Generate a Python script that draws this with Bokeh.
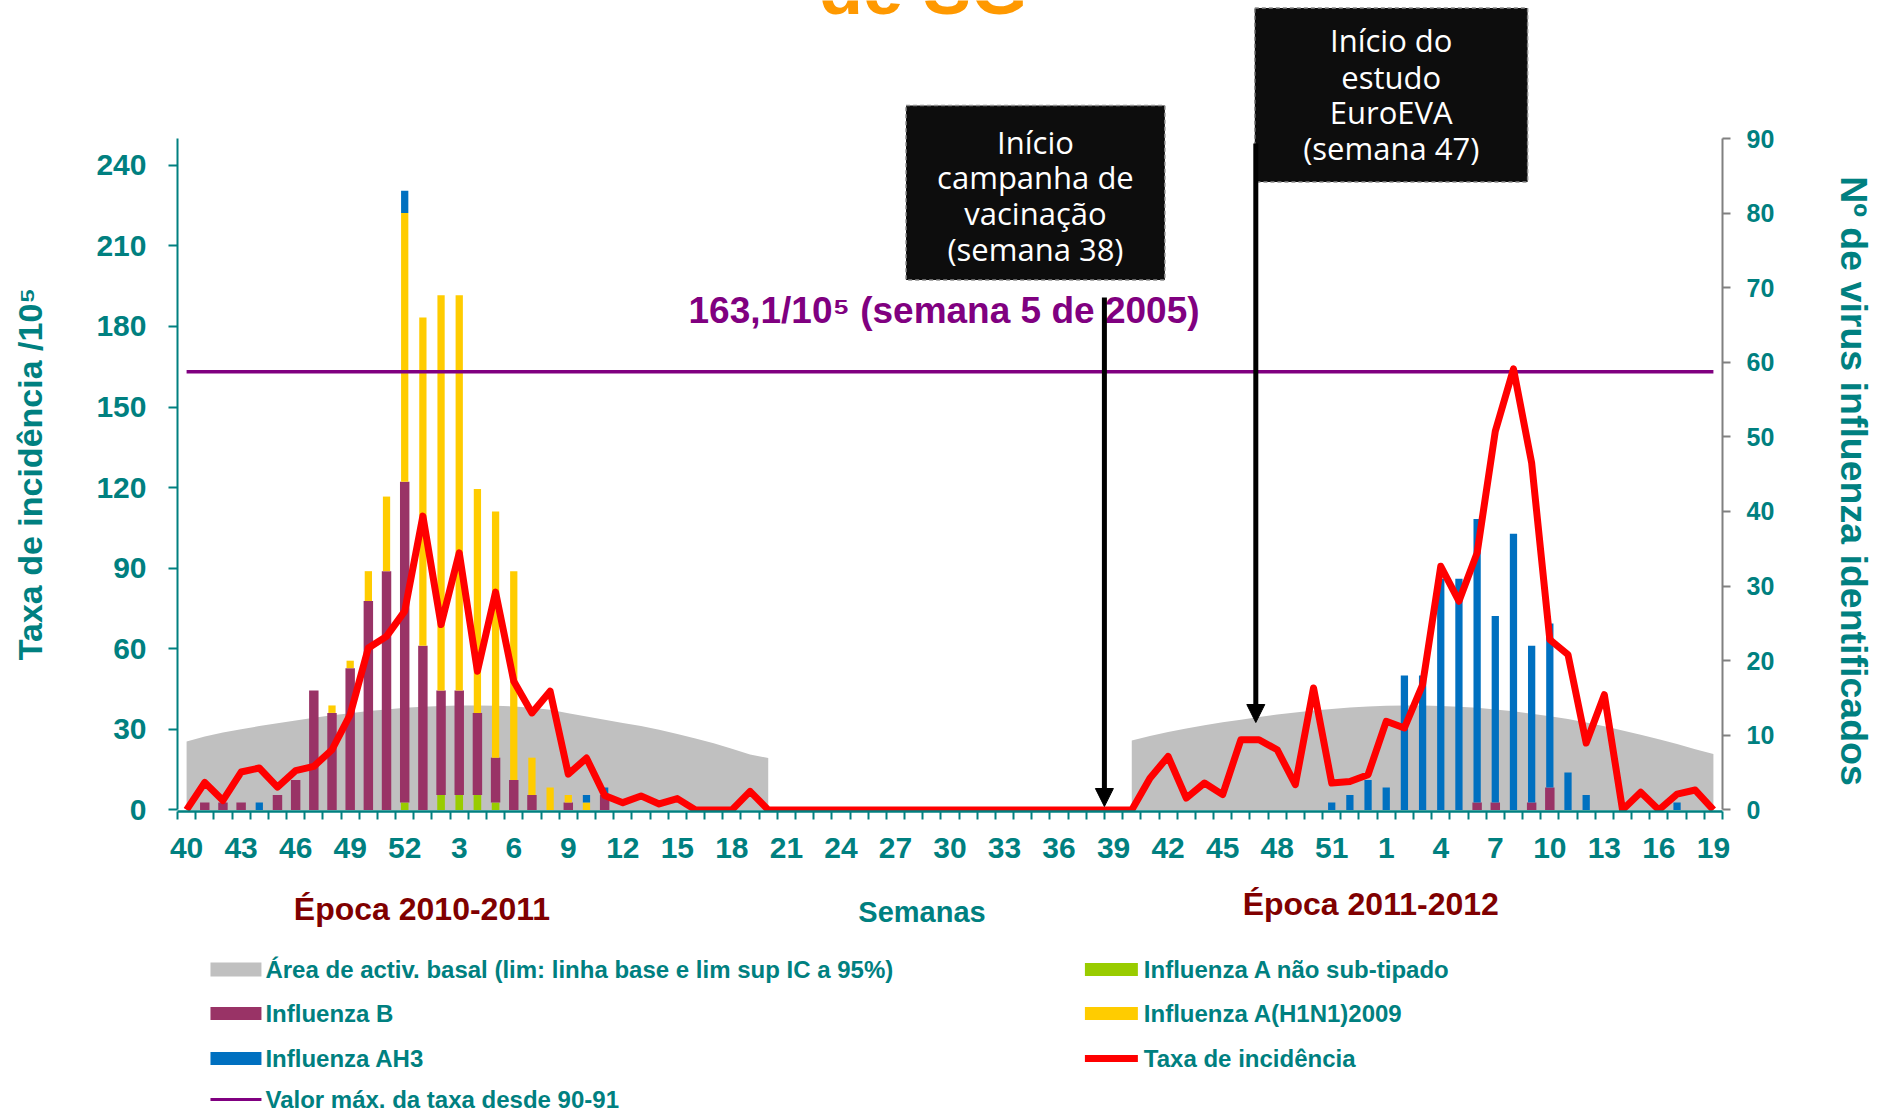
import numpy as np
from bokeh.plotting import figure
from bokeh.models import Range1d, LinearAxis, FixedTicker, Arrow, NormalHead
from bokeh.layouts import column
from bokeh.core.properties import value
from bokeh.embed import file_html
from bokeh.resources import INLINE

# ------------------------------------------------------------------ data
weeks_2010_11 = list(range(40, 53)) + list(range(1, 40))          # 52 weeks
weeks_2011_12 = list(range(40, 54)) + list(range(1, 20))          # 33 weeks
week_labels = weeks_2010_11 + weeks_2011_12

# incidence rate /10^5 (left axis)
rate_2010_11 = [0, 10.2, 3.5, 14.1, 15.6, 8.5, 14.6, 16.2, 22.4, 35.5, 60.3, 64.6, 74.0,
                109.4, 69.0, 95.7, 51.6, 81.1, 47.9, 36.1, 44.2, 13.3, 19.3, 5.4, 2.7,
                5.2, 2.2, 4.2, 0, 0, 0, 6.9, 0]
rate_summer = [0, 0, 0, 0, 0, 0, 0, 0, 0, 0, 0, 0, 0, 0, 0, 0, 0, 0, 0]
rate_2011_12 = [0, 11.8, 19.9, 4.4, 10.0, 5.7, 26.1, 26.1, 22.4, 9.4, 45.4, 10.0, 10.6,
                13.1, 33.0, 30.5, 46.6, 90.7, 77.7, 95.7, 141.0, 164.2, 129.2, 63.4, 57.8,
                24.9, 42.9, 0, 6.6, 0, 5.9, 7.4, 0]

# baseline activity area (upper limit, left axis)
baseline_2010_11 = [25.5, 27.3, 28.8, 30.0, 31.2, 32.3, 33.3, 34.3, 35.2, 36.0, 36.8, 37.4,
                    38.0, 38.4, 38.7, 38.9, 38.9, 38.8, 38.5, 38.0, 37.3, 36.0, 34.8, 33.6,
                    32.4, 31.2, 29.8, 28.3, 26.6, 24.8, 22.8, 20.6, 19.3]
baseline_2011_12 = [25.8, 27.5, 29.0, 30.3, 31.5, 32.6, 33.6, 34.6, 35.5, 36.3, 37.0, 37.6,
                    38.1, 38.5, 38.8, 38.9, 38.9, 38.7, 38.4, 38.0, 37.4, 36.7, 35.8, 34.9,
                    33.8, 32.5, 31.1, 29.6, 28.0, 26.3, 24.5, 22.6, 20.8]

# identified viruses (right axis)
a_nst_2010_11 = [0, 0, 0, 0, 0, 0, 0, 0, 0, 0, 0, 0, 1, 0, 2, 2, 2, 1, 0, 0, 0, 0, 0, 0,
                 0, 0, 0, 0, 0, 0, 0, 0, 0]
flu_b_2010_11 = [0, 1, 1, 1, 0, 2, 4, 16, 13, 19, 28, 32, 43, 22, 14, 14, 11, 6, 4, 2, 0, 1,
                 0, 2, 0, 0, 0, 0, 0, 0, 0, 0, 0]
h1n1_2010_11 = [0, 0, 0, 0, 0, 0, 0, 0, 1, 1, 4, 10, 36, 44, 53, 53, 30, 33, 28, 5, 3, 1,
                1, 0, 0, 0, 0, 0, 0, 0, 0, 0, 0]
ah3_2010_11 = [0, 0, 0, 0, 1, 0, 0, 0, 0, 0, 0, 0, 3, 0, 0, 0, 0, 0, 0, 0, 0, 0, 1, 1,
               0, 0, 0, 0, 0, 0, 0, 0, 0]
virus_summer = [0, 0, 0, 0, 0, 0, 0, 0, 0, 0, 0, 0, 0, 0, 0, 0, 0, 0, 0]
a_nst_2011_12 = [0, 0, 0, 0, 0, 0, 0, 0, 0, 0, 0, 0, 0, 0, 0, 0, 0, 0, 0, 0, 0, 0, 0, 0,
                 0, 0, 0, 0, 0, 0, 0, 0, 0]
flu_b_2011_12 = [0, 0, 0, 0, 0, 0, 0, 0, 0, 0, 0, 0, 0, 0, 0, 0, 0, 0, 0, 1, 1, 0, 1, 3,
                 0, 0, 0, 0, 0, 0, 0, 0, 0]
h1n1_2011_12 = [0, 0, 0, 0, 0, 0, 0, 0, 0, 0, 0, 0, 0, 0, 0, 0, 0, 0, 0, 0, 0, 0, 0, 0,
                0, 0, 0, 0, 0, 0, 0, 0, 0]
ah3_2011_12 = [0, 0, 0, 0, 0, 0, 0, 0, 0, 0, 0, 1, 2, 4, 3, 18, 18, 31, 31, 38, 25, 37, 21,
               22, 5, 2, 0, 0, 0, 0, 1, 0, 0]

max_rate = 163.1   # semana 5 de 2005

legend_left = ["Área de activ. basal (lim: linha base e lim sup IC a 95%)", "Influenza B",
               "Influenza AH3", "Valor máx. da taxa desde 90-91"]
legend_right = ["Influenza A não sub-tipado", "Influenza A(H1N1)2009", "Taxa de incidência"]
box1_lines = ["Início", "campanha de", "vacinação", "(semana 38)"]
box2_lines = ["Início do", "estudo", "EuroEVA", "(semana 47)"]

# ------------------------------------------------------------------ styles / layout
TEAL = "#008080"
DARKRED = "#800000"
FONT = "Liberation Sans"
C_AREA, C_NST, C_B, C_H1, C_H3 = "#C0C0C0", "#99CC00", "#993366", "#FFCC00", "#0070C0"
C_RATE, C_MAX = "#FF0000", "#800080"
EM = "\u2003"

W = 1878
FL, FR = 177, 1723          # frame left / right (px)
AX_TOP = 138                # pixel row of the axis maximum (250 / 90)
FRAME_H = 811               # frame spans pixel rows 0 .. 811
MAIN_H = 878
BOT_H = 1114 - MAIN_H
Y_LO, Y_MAX, V_MAX = -0.6, 250, 90
SCALE = (FRAME_H - AX_TOP) / (Y_MAX - Y_LO)
Y_END = Y_LO + FRAME_H / SCALE

N = len(week_labels)
x = np.arange(N)
rate = np.array(rate_2010_11 + rate_summer + rate_2011_12, dtype=float)
a_nst = np.array(a_nst_2010_11 + virus_summer + a_nst_2011_12, dtype=float)
flu_b = np.array(flu_b_2010_11 + virus_summer + flu_b_2011_12, dtype=float)
h1n1 = np.array(h1n1_2010_11 + virus_summer + h1n1_2011_12, dtype=float)
ah3 = np.array(ah3_2010_11 + virus_summer + ah3_2011_12, dtype=float)
x_s1 = x[:len(baseline_2010_11)]
x_s2 = x[N - len(baseline_2011_12):]

# ---------------- main chart
p = figure(width=W, height=MAIN_H, x_range=Range1d(-0.5, N - 0.5),
           y_range=Range1d(Y_LO, Y_END), output_backend="svg", toolbar_location=None,
           x_axis_type=None, y_axis_type=None, title=None,
           min_border_left=FL, min_border_right=W - FR, min_border_top=0,
           min_border_bottom=MAIN_H - FRAME_H)
p.extra_y_ranges = {"virus": Range1d(Y_LO * V_MAX / Y_MAX, Y_END * V_MAX / Y_MAX),
                    "pxy": Range1d(FRAME_H, 0)}
p.extra_x_ranges = {"pxx": Range1d(FL, FR)}
p.outline_line_color = None

xaxis = LinearAxis(ticker=FixedTicker(ticks=list(range(0, N, 3)),
                                      minor_ticks=[i - 0.5 for i in range(N + 1)]),
                   major_label_overrides={i: str(week_labels[i]) for i in range(0, N, 3)})
xaxis.axis_line_color = TEAL
xaxis.axis_line_width = 2.5
xaxis.major_tick_out = 0
xaxis.major_tick_in = 0
xaxis.major_tick_line_color = None
xaxis.minor_tick_out = 8
xaxis.minor_tick_in = 0
xaxis.minor_tick_line_color = TEAL
xaxis.minor_tick_line_width = 2
xaxis.major_label_standoff = 18
xaxis.major_label_text_font = FONT
xaxis.major_label_text_font_style = "bold"
xaxis.major_label_text_font_size = "30px"
xaxis.major_label_text_color = TEAL
p.add_layout(xaxis, "below")

# em spaces keep the axis titles centred on the 0..max span instead of the tall frame
yl = LinearAxis(ticker=FixedTicker(ticks=list(range(0, 241, 30))), bounds=(0, Y_MAX),
                axis_label="Taxa de incidência /10⁵" + EM * 4)
yl.axis_line_color = TEAL
yl.axis_line_width = 2
yl.major_tick_line_color = TEAL
yl.major_tick_line_width = 2
yl.major_tick_out = 9
yl.major_tick_in = 0
yl.minor_tick_line_color = None
yl.major_label_standoff = 22
yl.major_label_text_font = FONT
yl.major_label_text_font_style = "bold"
yl.major_label_text_font_size = "30px"
yl.major_label_text_color = TEAL
yl.axis_label_text_font = FONT
yl.axis_label_text_font_style = "bold"
yl.axis_label_text_font_size = "34px"
yl.axis_label_text_color = TEAL
yl.axis_label_standoff = 44
p.add_layout(yl, "left")

yr = LinearAxis(y_range_name="virus", ticker=FixedTicker(ticks=list(range(0, 91, 10))),
                bounds=(0, V_MAX), axis_label=EM * 4 + "Nº de virus influenza identificados")
yr.axis_line_color = "#808080"
yr.axis_line_width = 2
yr.major_tick_line_color = "#808080"
yr.major_tick_line_width = 2
yr.major_tick_out = 8
yr.major_tick_in = 0
yr.minor_tick_line_color = None
yr.major_label_standoff = 16
yr.major_label_text_font = FONT
yr.major_label_text_font_style = "bold"
yr.major_label_text_font_size = "25px"
yr.major_label_text_color = TEAL
yr.axis_label_text_font = FONT
yr.axis_label_text_font_style = "bold"
yr.axis_label_text_font_size = "37.5px"
yr.axis_label_text_color = TEAL
yr.axis_label_standoff = 56
p.add_layout(yr, "right")

# baseline activity area
p.varea(x=x_s1, y1=0, y2=baseline_2010_11, fill_color=C_AREA)
p.varea(x=x_s2, y1=0, y2=baseline_2011_12, fill_color=C_AREA)

# stacked virus bars
bottom = np.zeros(N)
for vals, color, width in [(a_nst, C_NST, 0.42), (flu_b, C_B, 0.52),
                           (h1n1, C_H1, 0.40), (ah3, C_H3, 0.40)]:
    m = vals > 0
    p.vbar(x=x[m], bottom=bottom[m], top=(bottom + vals)[m], width=width,
           fill_color=color, line_color=None, y_range_name="virus")
    bottom = bottom + vals

# max rate line and incidence line
p.line(x=[x[0], x[-1]], y=[max_rate, max_rate], line_color=C_MAX, line_width=3.5)
p.line(x=x, y=rate, line_color=C_RATE, line_width=7, line_join="round")

# annotations (pixel coordinates)
px = dict(x_range_name="pxx", y_range_name="pxy")
p.text(x=[819], y=[-12], text=["de SG"], text_font=value(FONT), text_font_style="bold",
       text_font_size="72px", text_color="#FF9900", text_align="left",
       text_baseline="middle", **px)
p.text(x=[944], y=[310], text=["163,1/10⁵ (semana 5 de 2005)"], text_font=value(FONT),
       text_font_style="bold", text_font_size="37px", text_color=C_MAX, text_align="center",
       text_baseline="middle", **px)
p.add_layout(Arrow(end=NormalHead(size=18, fill_color="black", line_color="black"),
                   x_start=1104.5, y_start=297, x_end=1104.5, y_end=806,
                   line_width=5, line_color="black", **px))
p.add_layout(Arrow(end=NormalHead(size=18, fill_color="black", line_color="black"),
                   x_start=1256, y_start=143, x_end=1256, y_end=722,
                   line_width=5, line_color="black", **px))
p.quad(left=[906, 1255], right=[1165, 1528], top=[105, 7.5], bottom=[279.5, 181.5],
       fill_color="#0d0d0d", line_color="#8c8c8c", line_dash="4 3", line_width=1.5, **px)
p.text(x=[1035.5] * 4 + [1391.5] * 4, y=[141.5, 176.5, 212, 248, 39.5, 76, 111.5, 147],
       text=box1_lines + box2_lines, text_font=value("Open Sans"),
       text_font_size="31px", text_color="white", text_align="center",
       text_baseline="middle", **px)

# ---------------- legend strip
q = figure(width=W, height=BOT_H, x_range=Range1d(FL, FR),
           y_range=Range1d(MAIN_H + BOT_H, MAIN_H),
           output_backend="svg", toolbar_location=None, x_axis_type=None, y_axis_type=None,
           title=None, min_border_left=FL, min_border_right=W - FR, min_border_top=0,
           min_border_bottom=0)
q.outline_line_color = None

q.text(x=[421.6, 1371], y=[908, 903], text=["Época 2010-2011", "Época 2011-2012"],
       text_font=value(FONT), text_font_style="bold", text_font_size="32px",
       text_color=DARKRED, text_align="center", text_baseline="middle")
q.text(x=[922], y=[911], text=["Semanas"], text_font=value(FONT), text_font_style="bold",
       text_font_size="29px", text_color=TEAL, text_align="center", text_baseline="middle")

rows = [969, 1013, 1058, 1099]
c1l, c1r, c2l, c2r = 210, 261, 1085, 1138
q.quad(left=[c1l, c1l, c1l, c2l, c2l], right=[c1r, c1r, c1r, c2r, c2r],
       top=[rows[0] - 7, rows[1] - 6.5, rows[2] - 6.5, rows[0] - 6.5, rows[1] - 6.5],
       bottom=[rows[0] + 7, rows[1] + 6.5, rows[2] + 6.5, rows[0] + 6.5, rows[1] + 6.5],
       fill_color=[C_AREA, C_B, C_H3, C_NST, C_H1], line_color=None)
q.segment(x0=[c1l], y0=[rows[3]], x1=[c1r], y1=[rows[3]], line_color=C_MAX, line_width=3)
q.segment(x0=[c2l], y0=[rows[2]], x1=[c2r], y1=[rows[2]], line_color=C_RATE, line_width=7)
q.text(x=[265] * 4 + [1144] * 3, y=rows + rows[:3], text=legend_left + legend_right,
       text_font=value(FONT), text_font_style="bold", text_font_size="24px",
       text_color=TEAL, text_align="left", text_baseline="middle")

layout = column(p, q)
open("out.html", "w").write(file_html(layout, INLINE))
